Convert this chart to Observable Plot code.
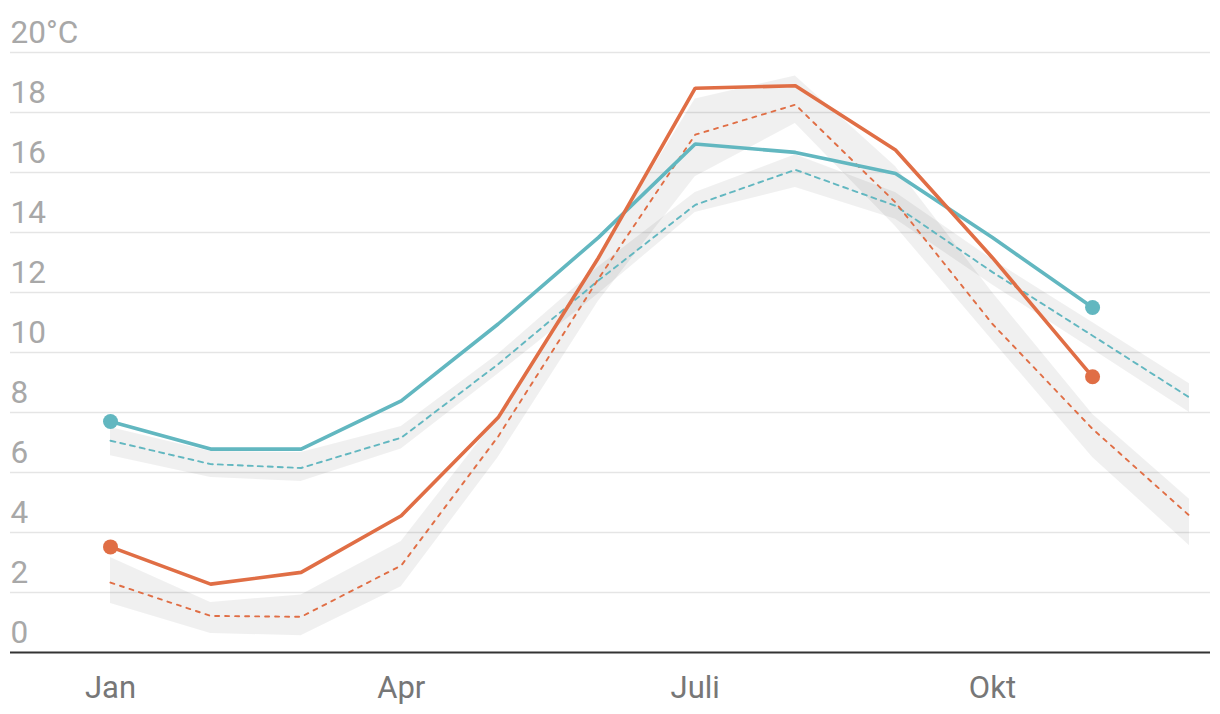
<!DOCTYPE html>
<html>
<head>
<meta charset="utf-8">
<script src="https://cdn.jsdelivr.net/npm/d3@7"></script>
<script src="https://cdn.jsdelivr.net/npm/@observablehq/plot@0.6"></script>
<style>
  html, body { margin: 0; padding: 0; background: #fff; }
  #chart svg { display: block; }
</style>
</head>
<body>
<div id="chart"></div>
<script>
// Mid-month dates (categories)
const months = ["2023-01-15","2023-02-15","2023-03-15","2023-04-15","2023-05-15","2023-06-15",
                "2023-07-15","2023-08-15","2023-09-15","2023-10-15","2023-11-15","2023-12-15"];
const tickMonths = ["2023-01-15","2023-04-15","2023-07-15","2023-10-15"];
const tickLabels = ["Jan","Apr","Juli","Okt"];
const yTicks = [0,2,4,6,8,10,12,14,16,18,20];
const yTickLabels = ["0","2","4","6","8","10","12","14","16","18","20°C"];

// Observed values (Jan–Nov)
const tealObs   = [7.7, 6.78, 6.78, 8.39, 10.95, 13.83, 16.95, 16.67, 15.97, 13.83, 11.5];
const orangeObs = [3.52, 2.28, 2.67, 4.56, 7.83, 13.15, 18.81, 18.89, 16.75, 13.16, 9.19];

// Long-term mean (Jan–Dec) with spread band
const tealMean  = [7.06, 6.28, 6.15, 7.16, 9.61, 12.4, 14.92, 16.09, 14.89, 12.68, 10.56, 8.5];
const tealLow   = [6.56, 5.83, 5.70, 6.78, 9.28, 11.95, 14.67, 15.5, 14.44, 12.25, 10.1, 8.0];
const tealHigh  = [7.50, 6.70, 6.67, 7.53, 9.94, 12.85, 15.33, 16.59, 15.33, 13.1, 11.0, 8.96];

const orangeMean = [2.33, 1.22, 1.19, 2.9, 7.2, 12.45, 17.26, 18.26, 15.0, 10.95, 7.45, 4.56];
const orangeLow  = [1.63, 0.63, 0.56, 2.19, 6.5, 11.7, 15.86, 17.63, 14.2, 10.4, 6.5, 3.56];
const orangeHigh = [3.17, 1.67, 1.92, 3.7, 7.85, 13.2, 18.45, 19.22, 16.2, 12.0, 7.94, 5.11];

const teal = "#62b7c0";
const orange = "#e06e45";

const parse = d3.utcParse("%Y-%m-%d");
const dates = months.map(parse);

const series = (vals) => vals.map((v, i) => ({date: dates[i], value: v}));
const band = (lo, hi) => lo.map((v, i) => ({date: dates[i], low: v, high: hi[i]}));

const tealObsData = series(tealObs);
const orangeObsData = series(orangeObs);
const tealMeanData = series(tealMean);
const orangeMeanData = series(orangeMean);
const tealBand = band(tealLow, tealHigh);
const orangeBand = band(orangeLow, orangeHigh);

const endpoints = (d) => [d[0], d[d.length - 1]];

const chart = Plot.plot({
  width: 1220,
  height: 714,
  marginLeft: 10,
  marginRight: 10,
  marginTop: 52,
  marginBottom: 62,
  style: {fontFamily: "Roboto, 'Open Sans', sans-serif", background: "#fff"},
  x: {type: "utc", domain: [dates[0], dates[11]], range: [110, 1189], axis: null},
  y: {domain: [0, 20], axis: null},
  marks: [
    Plot.ruleY(yTicks.slice(1), {stroke: "#e5e5e5", strokeWidth: 1.3}),
    Plot.areaY(tealBand, {x: "date", y1: "low", y2: "high", fill: "#000", fillOpacity: 0.06}),
    Plot.areaY(orangeBand, {x: "date", y1: "low", y2: "high", fill: "#000", fillOpacity: 0.06}),
    Plot.line(tealMeanData, {x: "date", y: "value", stroke: teal, strokeWidth: 1.9, strokeDasharray: "5,5"}),
    Plot.line(orangeMeanData, {x: "date", y: "value", stroke: orange, strokeWidth: 1.9, strokeDasharray: "4,6"}),
    Plot.line(tealObsData, {x: "date", y: "value", stroke: teal, strokeWidth: 3.6, strokeLinejoin: "miter"}),
    Plot.line(orangeObsData, {x: "date", y: "value", stroke: orange, strokeWidth: 3.6, strokeLinejoin: "miter"}),
    Plot.dot(endpoints(tealObsData), {x: "date", y: "value", r: 7.5, fill: teal}),
    Plot.dot(endpoints(orangeObsData), {x: "date", y: "value", r: 7.5, fill: orange}),
    Plot.ruleY([0], {stroke: "#333", strokeWidth: 2}),
    Plot.text(yTicks, {
      y: (d) => d, text: (d, i) => yTickLabels[i],
      frameAnchor: "left", textAnchor: "start", lineAnchor: "bottom",
      dy: -10, fill: "#a8a8a8", fontSize: 31.5
    }),
    Plot.text(tickMonths, {
      x: (d) => parse(d), text: (d, i) => tickLabels[i],
      frameAnchor: "bottom", lineAnchor: "bottom",
      dy: 45, fill: "#777", fontSize: 31
    })
  ]
});

document.getElementById("chart").appendChild(chart);
</script>
</body>
</html>
